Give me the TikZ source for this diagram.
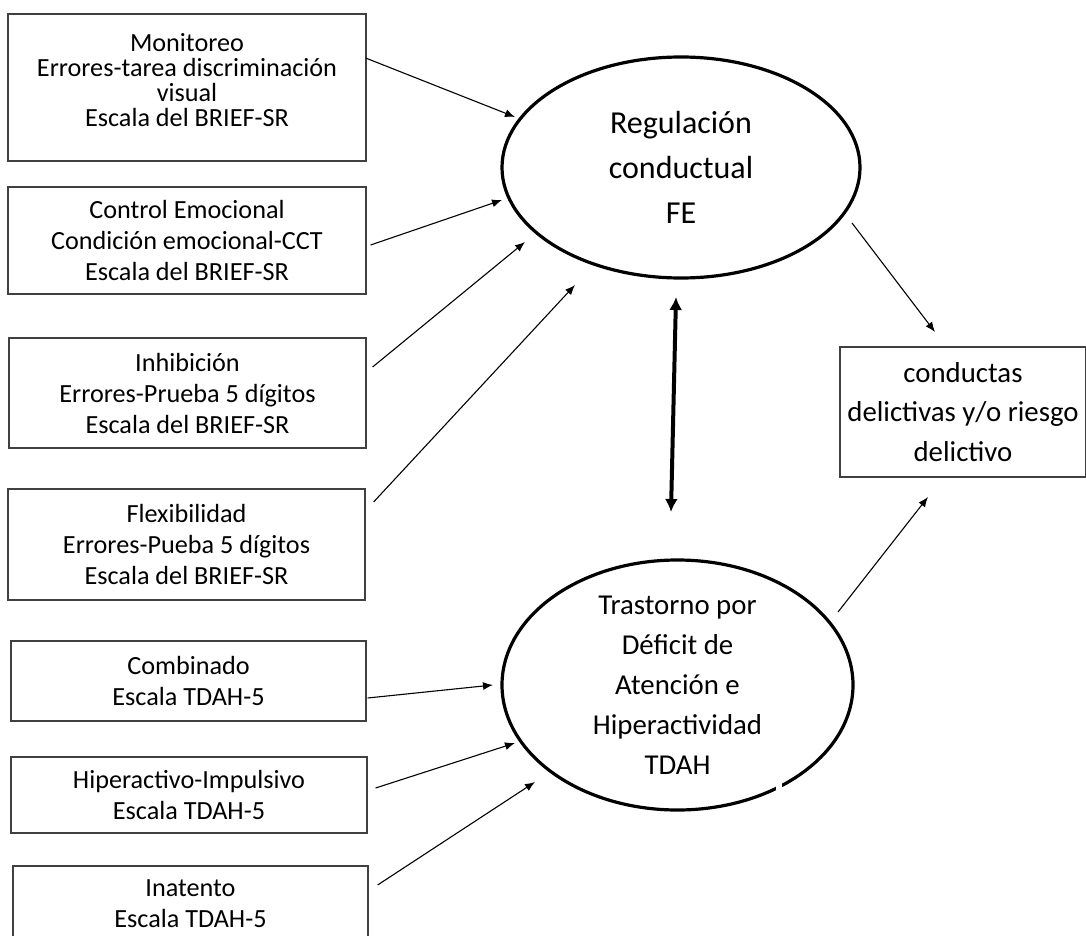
\documentclass[tikz,border=0pt]{standalone}
\usepackage{fontspec}
\setmainfont{Carlito}
\usetikzlibrary{shapes.geometric,arrows.meta}
\definecolor{boxline}{HTML}{404040}

\begin{document}
\begin{tikzpicture}[x=0.5pt,y=-0.5pt,>={Latex[length=5pt,width=4pt]},
  box/.style={draw=boxline,line width=0.6pt,align=center,inner sep=0pt,
    font=\fontsize{13.1}{15.5}\selectfont},
  latent/.style={ellipse,draw,line width=1.6pt,align=center,inner sep=0pt},
  link/.style={->,line width=0.55pt}]
  \useasboundingbox (0,0) rectangle (1086,936);
  \clip (0,0) rectangle (1086,936);
  % indicadores FE
  \node[box,minimum width=179pt,minimum height=73.5pt,text depth=8pt,
    font=\fontsize{13.1}{12.5}\selectfont] (mon) at (187,87.5)
    {Monitoreo\\Errores-tarea discriminación\\visual\\Escala del BRIEF-SR};
  \node[box,minimum width=179pt,minimum height=53.5pt] (emo) at (187,240.5)
    {Control Emocional\\Condición emocional-CCT\\Escala del BRIEF-SR};
  \node[box,minimum width=178.5pt,minimum height=55pt] (inh) at (187.5,393)
    {Inhibición\\Errores-Prueba 5 dígitos\\Escala del BRIEF-SR};
  \node[box,minimum width=178.5pt,minimum height=55.5pt] (flex) at (186.5,544.5)
    {Flexibilidad\\Errores-Pueba 5 dígitos\\Escala del BRIEF-SR};
  % indicadores TDAH
  \node[box,minimum width=177.5pt,minimum height=40pt] (comb) at (188.5,681)
    {Combinado\\Escala TDAH-5};
  \node[box,minimum width=178pt,minimum height=38pt] (hip) at (189,795)
    {Hiperactivo-Impulsivo\\Escala TDAH-5};
  \node[box,minimum width=177.5pt,minimum height=38pt] (inat) at (190.5,904)
    {Inatento\\Escala TDAH-5};
  % latentes
  \node[latent,minimum width=179pt,minimum height=110.5pt,
    font=\fontsize{16}{22.5}\selectfont] (fe) at (681,167.5)
    {Regulación\\conductual\\FE};
  \node[latent,minimum width=175.5pt,minimum height=125pt,inner ysep=-6pt,
    font=\fontsize{14.4}{20}\selectfont] (tdah) at (677.5,685)
    {Trastorno por\\Déficit de\\Atención e\\Hiperactividad\\TDAH};
  \fill[white] (776,776) rectangle (782,794);
  \node[box,minimum width=123pt,minimum height=65pt,
    font=\fontsize{14.4}{19.75}\selectfont] (cond) at (963,412)
    {conductas\\delictivas y/o riesgo\\delictivo};

  \path[link]
    ([shift={(-1,-29.5)}]mon.east) edge ([shift={(-166,-50.5)}]fe.center)
    ([shift={(4,4.5)}]emo.east) edge ([shift={(-179,32.5)}]fe.center)
    ([shift={(6,-26)}]inh.east) edge ([shift={(-156,74.5)}]fe.center)
    ([shift={(8,-42.5)}]flex.east) edge ([shift={(-106,117.5)}]fe.center)
    ([shift={(1,17)}]comb.east) edge ([shift={(-184.5,0)}]tdah.center)
    ([shift={(8,-7)}]hip.east) edge ([shift={(-162.5,58)}]tdah.center)
    ([shift={(9,-19)}]inat.east) edge ([shift={(-142.5,97)}]tdah.center)
    ([shift={(171,55.5)}]fe.center) edge ([shift={(-28,-80)}]cond.center)
    ([shift={(160.5,-73)}]tdah.center) edge ([shift={(-35,85)}]cond.center);
  \draw[<->,line width=2pt,>={Latex[length=6.5pt,width=6.5pt]}]
    ([shift={(-5,129.5)}]fe.center) -- ([shift={(-6.5,-173)}]tdah.center);
\end{tikzpicture}
\end{document}
